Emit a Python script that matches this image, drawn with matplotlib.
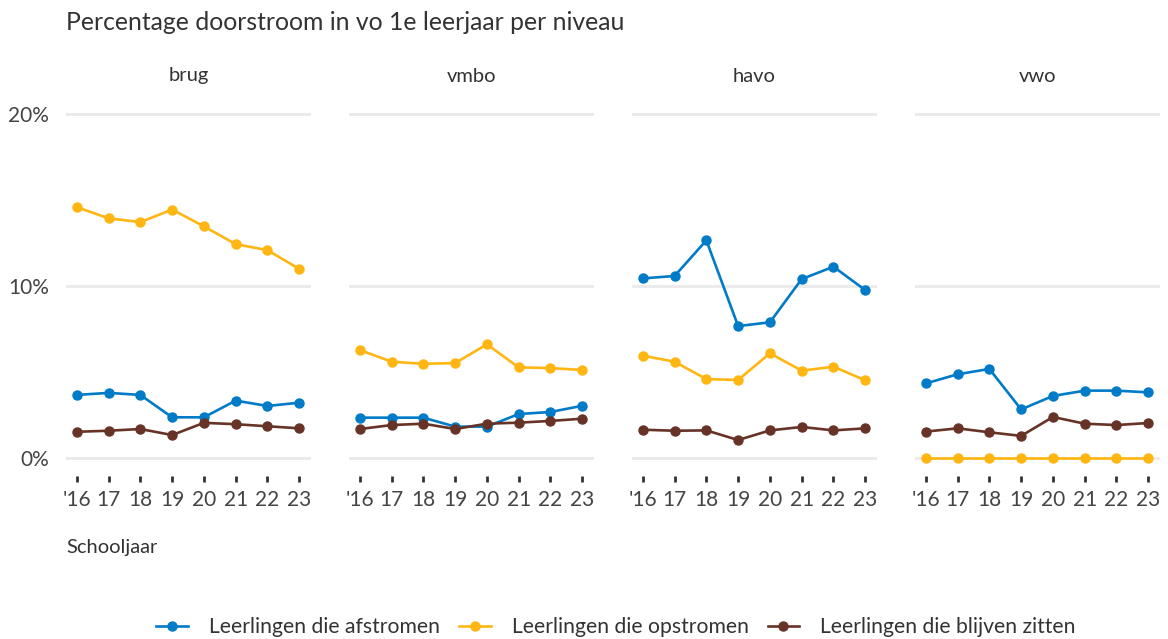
import matplotlib
matplotlib.use("Agg")
import matplotlib.pyplot as plt
from matplotlib.lines import Line2D

plt.rcParams['font.family'] = ['Lato', 'DejaVu Sans']

years = ["'16", "17", "18", "19", "20", "21", "22", "23"]
levels = ["brug", "vmbo", "havo", "vwo"]
series_names = ["Leerlingen die afstromen", "Leerlingen die opstromen", "Leerlingen die blijven zitten"]
colors = ["#007BC7", "#FFB612", "#673327"]

afstromen = {
    "brug": [3.68, 3.80, 3.68, 2.38, 2.38, 3.35, 3.04, 3.23],
    "vmbo": [2.36, 2.36, 2.36, 1.84, 1.84, 2.57, 2.69, 3.05],
    "havo": [10.45, 10.59, 12.66, 7.68, 7.90, 10.41, 11.13, 9.77],
    "vwo":  [4.35, 4.88, 5.19, 2.84, 3.62, 3.93, 3.93, 3.83],
}
opstromen = {
    "brug": [14.59, 13.94, 13.72, 14.45, 13.47, 12.44, 12.09, 11.00],
    "vmbo": [6.29, 5.61, 5.49, 5.53, 6.62, 5.28, 5.24, 5.13],
    "havo": [5.96, 5.61, 4.60, 4.55, 6.10, 5.09, 5.32, 4.53],
    "vwo":  [0, 0, 0, 0, 0, 0, 0, 0],
}
blijven = {
    "brug": [1.54, 1.60, 1.70, 1.35, 2.06, 1.98, 1.86, 1.74],
    "vmbo": [1.70, 1.93, 2.01, 1.70, 2.01, 2.07, 2.17, 2.30],
    "havo": [1.66, 1.60, 1.62, 1.06, 1.62, 1.82, 1.62, 1.74],
    "vwo":  [1.55, 1.74, 1.51, 1.30, 2.40, 2.01, 1.93, 2.05],
}
yticks = [0, 10, 20]
ytick_labels = ["0%", "10%", "20%"]

W, H = 1168, 639
fig = plt.figure(figsize=(W / 100, H / 100), dpi=100)

text_color = "#333333"
tick_color = "#444444"
panel_lefts = [66, 349, 632, 915]
panel_w = 245
ax_top_px, ax_bot_px = 105.4, 475.5

x = list(range(len(years)))
for i, lvl in enumerate(levels):
    ax = fig.add_axes([panel_lefts[i] / W, 1 - ax_bot_px / H, panel_w / W, (ax_bot_px - ax_top_px) / H])
    for vals, c in zip([afstromen, opstromen, blijven], colors):
        ax.plot(x, vals[lvl], color=c, lw=1.9, marker="o", ms=6.5, zorder=3, clip_on=False)
    ax.set_xlim(-0.34, 7.37)
    ax.set_ylim(-1.0, 20.5)
    ax.set_yticks(yticks)
    for y in yticks:
        ax.axhline(y, color="#ebebeb", lw=2.2, zorder=1)
    for s in ax.spines.values():
        s.set_visible(False)
    ax.set_xticks(x)
    ax.set_xticklabels(years, fontsize=15, color=tick_color)
    ax.tick_params(axis="x", length=4.5, width=2, color="#333333", pad=6)
    ax.tick_params(axis="y", length=0, pad=12)
    if i == 0:
        ax.set_yticklabels(ytick_labels, fontsize=15, color=tick_color)
    else:
        ax.set_yticklabels([])
    ax.set_facecolor("none")
    fig.text((panel_lefts[i] + panel_w / 2) / W, 1 - 76 / H, lvl, ha="center", va="center",
             fontsize=14.5, color=text_color)

fig.text(66 / W, 1 - 22 / H, "Percentage doorstroom in vo 1e leerjaar per niveau",
         ha="left", va="center", fontsize=17.8, color=text_color)
fig.text(66 / W, 1 - 548 / H, "Schooljaar", ha="left", va="center", fontsize=14.5, color=text_color)

handles = [Line2D([0], [0], color=c, lw=1.9, marker="o", ms=6.5) for c in colors]
fig.legend(handles, series_names, loc="center", bbox_to_anchor=(616 / W, 1 - 627 / H), ncol=3,
           frameon=False, fontsize=15.2, handlelength=1.5, columnspacing=0.9, handletextpad=1.0,
           labelcolor=text_color)

fig.savefig("out.png", dpi=100)
